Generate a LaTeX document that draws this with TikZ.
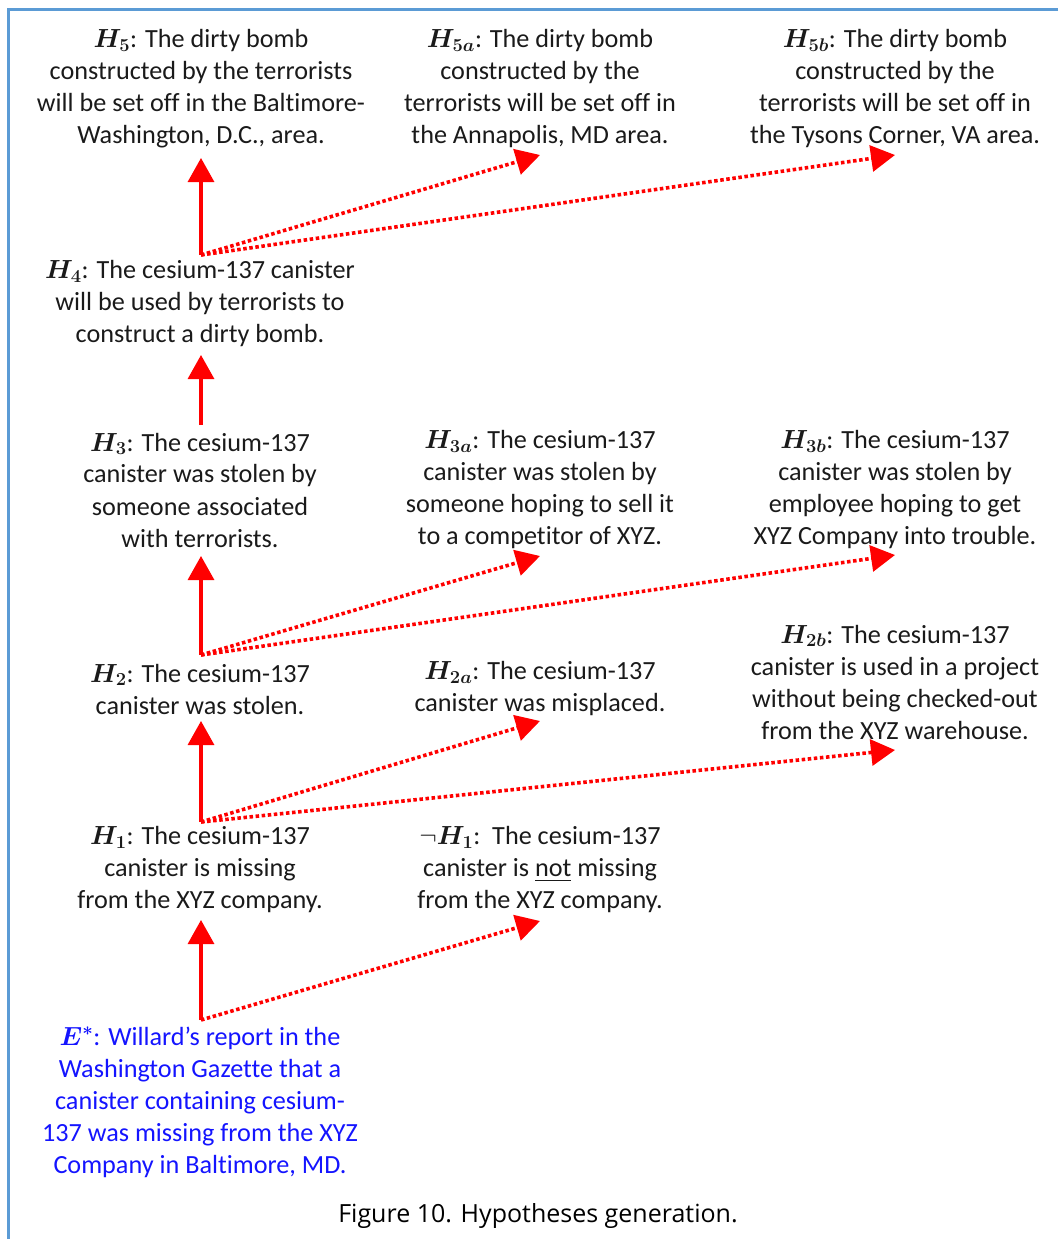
\RequirePackage{fix-cm}
\documentclass[tikz,border=0pt]{standalone}
\usepackage{amsmath}
\usepackage{fontspec}
\setmainfont{Carlito}[Ligatures={TeX,NoCommon,NoContextual}]
\newfontfamily\capfont{Open Sans}
\usetikzlibrary{arrows.meta}
\definecolor{frameblue}{HTML}{5B9BD5}
\definecolor{hypred}{HTML}{FF0000}
\definecolor{evblue}{HTML}{1414FF}
\definecolor{ink}{HTML}{1A1A1A}
\newcommand\hy[1]{$\boldsymbol{H_{#1}}$}
\tikzset{
  hyp/.style={align=center, inner sep=0pt, text=ink, font=\fontsize{26.2}{32}\selectfont},
  evid/.style={hyp, text=evblue},
  support/.style={draw=hypred, line width=3.2pt, -{Triangle[length=24pt,width=26pt]}},
  alt/.style={draw=hypred, line width=3.6pt, dash pattern=on 3.5pt off 2.6pt,
    -{Triangle[length=24pt,width=26pt]}},
}
\begin{document}
\begin{tikzpicture}[x=1pt,y=-1pt]
\useasboundingbox (0,0) rectangle (1058,1239);
% frame
\draw[frameblue, line width=3pt, line join=miter] (1058,10) -- (8,10) -- (8,1239);

% hypotheses
\node[hyp] (H5)  at (201,89) {\hy{5}: The dirty bomb\\constructed by the terrorists\\will be set off in the Baltimore-\\Washington, D.C., area.};
\node[hyp] (H5a) at (540,89) {\hy{5a}: The dirty bomb\\constructed by the\\terrorists will be set off in\\the Annapolis, MD area.};
\node[hyp] (H5b) at (895,89) {\hy{5b}: The dirty bomb\\constructed by the\\terrorists will be set off in\\the Tysons Corner, VA area.};

\node[hyp] (H4) at (200,304) {\hy{4}: The cesium-137 canister\\will be used by terrorists to\\construct a dirty bomb.};

\node[hyp] (H3)  at (200,490) {\hy{3}: The cesium-137\\canister was stolen by\\someone associated\\with terrorists.};
\node[hyp] (H3a) at (540,490) {\hy{3a}: The cesium-137\\canister was stolen by\\someone hoping to sell it\\to a competitor of XYZ.};
\node[hyp] (H3b) at (895,490) {\hy{3b}: The cesium-137\\canister was stolen by\\employee hoping to get\\XYZ Company into trouble.};

\node[hyp] (H2)  at (200,689) {\hy{2}: The cesium-137\\canister was stolen.};
\node[hyp] (H2a) at (540,689) {\hy{2a}: The cesium-137\\canister was misplaced.};
\node[hyp] (H2b) at (895,682) {\hy{2b}: The cesium-137\\canister is used in a project\\without being checked-out\\from the XYZ warehouse.};

\node[hyp] (H1)  at (200,870) {\hy{1}: The cesium-137\\canister is missing\\from the XYZ company.};
\node[hyp] (nH1) at (540,870) {$\neg\boldsymbol{H_1}$:\ \ The cesium-137\\canister is \underline{not} missing\\from the XYZ company.};

\node[evid] (E) at (200,1102) {$\boldsymbol{E^*}$: Willard’s report in the\\Washington Gazette that a\\canister containing cesium-\\137 was missing from the XYZ\\Company in Baltimore, MD.};

\node[inner sep=0pt, text=black, font=\capfont\fontsize{25}{30}\selectfont] (cap) at (538,1216) {Figure 10. Hypotheses generation.};

% branching points and arrow tips
\coordinate (o4) at (201,255);
\coordinate (o2) at (201,655);
\coordinate (o1) at (201,822);
\coordinate (oE) at (201,1020);
\coordinate (t5)  at (201,158);
\coordinate (t5a) at (540,155);
\coordinate (t5b) at (895,155);
\coordinate (o3)  at (201,425);
\coordinate (t4)  at (201,355);
\coordinate (t3)  at (201,556);
\coordinate (t3a) at (540,556);
\coordinate (t3b) at (895,555);
\coordinate (t2)  at (201,721);
\coordinate (t2a) at (540,721);
\coordinate (t2b) at (895,750);
\coordinate (t1)  at (201,920);
\coordinate (tn1) at (540,921);

% alternatives (dotted)
\draw[alt] (o4) -- (t5a);
\draw[alt] (o4) -- (t5b);
\draw[alt] (o2) -- (t3a);
\draw[alt] (o2) -- (t3b);
\draw[alt] (o1) -- (t2a);
\draw[alt] (o1) -- (t2b);
\draw[alt] (oE) -- (tn1);

% main chain (solid)
\draw[support] (o4) -- (t5);
\draw[support] (o3) -- (t4);
\draw[support] (o2) -- (t3);
\draw[support] (o1) -- (t2);
\draw[support] (oE) -- (t1);
\end{tikzpicture}
\end{document}
